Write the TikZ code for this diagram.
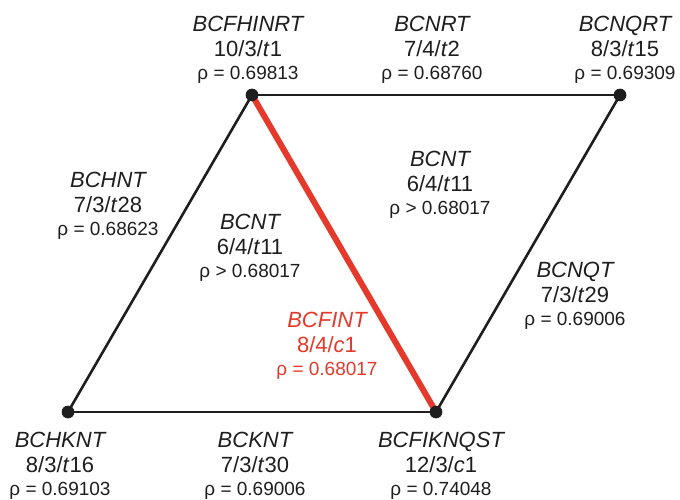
\documentclass[tikz,border=0pt]{standalone}
\usepackage{fontspec}
\setmainfont{Liberation Sans}
\definecolor{redl}{HTML}{E4392B}
\definecolor{ink}{HTML}{1E1E1E}
\tikzset{
 edge/.style={line width=2.6pt, draw=ink},
 redge/.style={line width=6pt, draw=redl},
 vdot/.style={circle, fill=ink, minimum size=12.5pt, inner sep=0pt},
 nm/.style={anchor=base, inner sep=0pt, font=\fontsize{22}{26}\selectfont\itshape},
 fr/.style={anchor=base, inner sep=0pt, font=\fontsize{22}{26}\selectfont},
 rh/.style={anchor=base, inner sep=0pt, font=\fontsize{19}{23}\selectfont},
}
\newcommand\grp[7][ink]{%
  \node[nm,text=#1] (#2n) at (#3,#4) {#5};
  \node[fr,text=#1] (#2f) at (#3,#4+25) {#6};
  \node[rh,text=#1] (#2r) at (#3,#4+48) {ρ #7};
}
\begin{document}
\begin{tikzpicture}[x=1pt,y=-1pt]
\useasboundingbox (0,0) rectangle (680,500);
\node[vdot] (a) at (252,95) {};
\node[vdot] (b) at (620,95) {};
\node[vdot] (c) at (68,412) {};
\node[vdot] (d) at (436,412) {};
\draw[edge] (a.center) -- (b.center);
\draw[edge] (a.center) -- (c.center);
\draw[edge] (c.center) -- (d.center);
\draw[edge] (d.center) -- (b.center);
\draw[redge] (a.center) -- (d.center);
\node[vdot] at (a) {};
\node[vdot] at (b) {};
\node[vdot] at (c) {};
\node[vdot] at (d) {};
\grp{g1}{248}{32}{BCFHINRT}{10/3/\textit{t}1}{= 0.69813}
\grp{g2}{432}{32}{BCNRT}{7/4/\textit{t}2}{= 0.68760}
\grp{g3}{625}{32}{BCNQRT}{8/3/\textit{t}15}{= 0.69309}
\grp{g4}{108}{187}{BCHNT}{7/3/\textit{t}28}{= 0.68623}
\grp{g5}{250}{229}{BCNT}{6/4/\textit{t}11}{> 0.68017}
\grp{g6}{440}{166}{BCNT}{6/4/\textit{t}11}{> 0.68017}
\grp{g7}{575}{277}{BCNQT}{7/3/\textit{t}29}{= 0.69006}
\grp[redl]{g8}{327}{327}{BCFINT}{8/4/\textit{c}1}{= 0.68017}
\grp{g9}{60}{447}{BCHKNT}{8/3/\textit{t}16}{= 0.69103}
\grp{g10}{255}{447}{BCKNT}{7/3/\textit{t}30}{= 0.69006}
\grp{g11}{441}{447}{BCFIKNQST}{12/3/\textit{c}1}{= 0.74048}
\end{tikzpicture}
\end{document}
